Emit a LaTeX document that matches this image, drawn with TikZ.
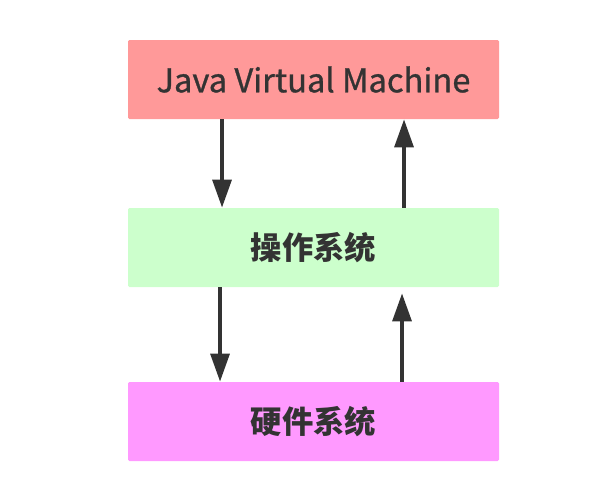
\documentclass[tikz,border=0pt]{standalone}
\usepackage{fontspec}
\setmainfont{Noto Sans CJK SC}
\newfontfamily\jvmfont{Noto Sans CJK SC}[FakeBold=0.9]
\usetikzlibrary{arrows.meta}
\definecolor{jvmred}{HTML}{FF9999}
\definecolor{osgreen}{HTML}{CCFFCC}
\definecolor{hwpink}{HTML}{FF99FF}
\definecolor{ink}{HTML}{333333}
\tikzset{
	layer/.style={rectangle, rounded corners=1pt, inner sep=0pt, minimum width=371*0.75pt, minimum height=79*0.75pt, text=ink, font=\fontsize{24.5}{28}\selectfont\jvmfont},
	cjklayer/.style={layer, font=\fontsize{23.5}{28}\selectfont\bfseries},
	flow/.style={-{Triangle[length=21pt,width=14pt]}, line width=3pt, draw=ink}
}
\begin{document}
\begin{tikzpicture}[x=0.75pt, y=-0.75pt]
				\useasboundingbox (0,0) rectangle (614,496);
				
				\node[layer, fill=jvmred] (jvm) at (313.5, 79.5) {Java Virtual Machine};
				\node[cjklayer, fill=osgreen] (os) at (313.5, 247.5) {操作系统};
				\node[cjklayer, fill=hwpink] (hw) at (313.5, 421.5) {硬件系统};
				
				\draw[flow] ([xshift=-68.6pt]jvm.south) -- ([xshift=-68.6pt]os.north);
				\draw[flow] ([xshift=67.9pt]os.north) -- ([xshift=67.9pt]jvm.south);
				
				\draw[flow] ([xshift=-70.1pt]os.south) -- ([xshift=-70.1pt]hw.north);
				\draw[flow, shorten >=4.5pt] ([xshift=66.4pt]hw.north) -- ([xshift=66.4pt]os.south);
				
			\end{tikzpicture}
\end{document}
